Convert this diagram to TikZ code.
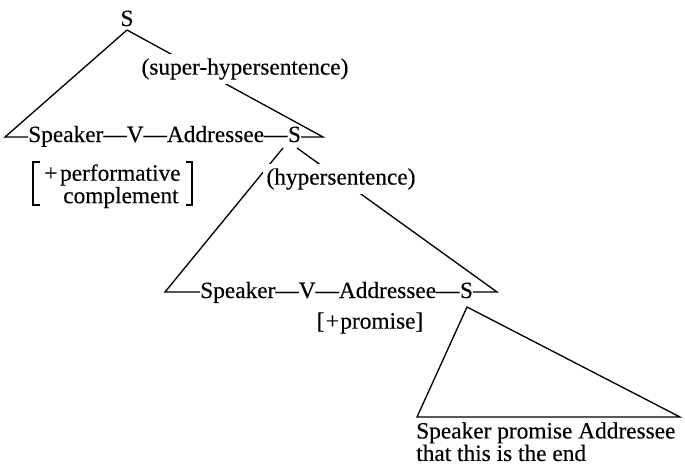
\documentclass[tikz,border=0pt]{standalone}
\usepackage{fontspec}
\setmainfont[FakeBold=0.3]{Liberation Serif}
\usetikzlibrary{calc}
\begin{document}
\begin{tikzpicture}[x=0.75pt,y=-0.75pt,
  every node/.style={font=\fontsize{17.5}{14.25}\selectfont, inner sep=0pt},
  edge/.style={line width=1pt, line join=miter},
  lab/.style={fill=white, inner sep=3pt},
  brk/.style={line width=1.4pt}]
\useasboundingbox (0,0) rectangle (685,468);
% top sentence
\node[anchor=base] (S0) at (127,26) {S};
\coordinate (A0) at (127,30);
\coordinate (L1) at (5,137);
\coordinate (R1) at (323,137);
\node[anchor=base west] (r1) at (28,142) {Speaker—V—Addressee—};
\node[anchor=base west] (S1) at (r1.base east) {S};
\draw[edge] (A0) -- (L1) -- (L1 -| r1.west);
\draw[edge] (A0) -- (R1) -- (R1 -| S1.east);
\node[lab] (sup) at (245,69) {(super-hypersentence)};
% feature bracket
\node[anchor=north west, align=left, font=\fontsize{17.5}{12.75}\selectfont] (pf) at (44,164) {+\kern2pt performative\\\hspace*{14.25pt}complement};
\draw[brk] (40,162) -- (33,162) -- (33,205) -- (40,205);
\draw[brk] (186,162) -- (192,162) -- (192,205) -- (186,205);
% second level
\coordinate (B1l) at (283,148);
\coordinate (B1r) at (297,148);
\coordinate (L2) at (165,292);
\coordinate (R2) at (497,292);
\node[anchor=base west] (r2) at (200,298) {Speaker—V—Addressee—};
\node[anchor=base west] (S2) at (r2.base east) {S};
\draw[edge] (B1l) -- (L2) -- (L2 -| r2.west);
\draw[edge] (B1r) -- (R2) -- (R2 -| S2.east);
\node[lab] (hyp) at (341,179) {(hypersentence)};
\node (pr) at (370,323) {[\kern1pt+\kern1pt promise]};
% triangle
\coordinate (T0) at (467,307);
\coordinate (TL) at (417,417);
\coordinate (TR) at (680,417);
\draw[edge] (T0) -- (TL) -- (TR) -- cycle;
\node[anchor=north west, align=left] (bt) at (416,422) {Speaker promise Addressee\\that this is the end};
\end{tikzpicture}
\end{document}
